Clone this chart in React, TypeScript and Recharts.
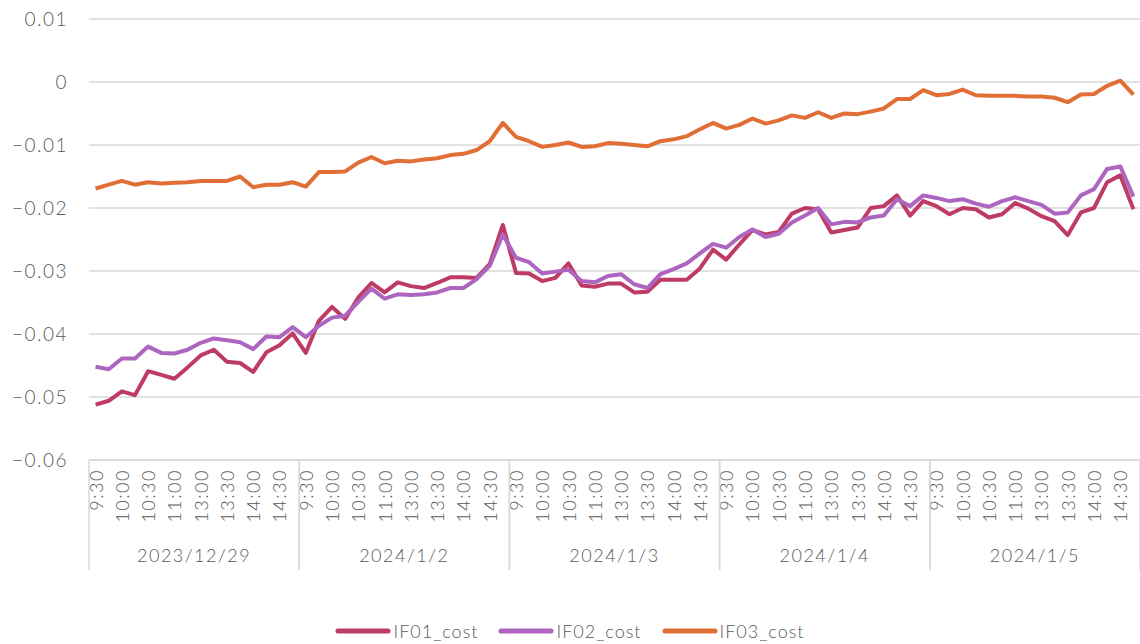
import React from 'react';
import { LineChart, Line, XAxis, YAxis, CartesianGrid, Legend } from 'recharts';

const days = ['2023/12/29', '2024/1/2', '2024/1/3', '2024/1/4', '2024/1/5'];
const times = [
  '9:30', '9:45', '10:00', '10:15', '10:30', '10:45', '11:00', '11:15',
  '13:00', '13:15', '13:30', '13:45', '14:00', '14:15', '14:30', '14:45',
];

const if01 = [
  -0.0512, -0.0506, -0.0491, -0.0497, -0.0459, -0.0465, -0.0471, -0.0453, -0.0434, -0.0425, -0.0444, -0.0446, -0.046, -0.0429, -0.0418, -0.0399,
  -0.043, -0.0379, -0.0357, -0.0376, -0.0342, -0.0319, -0.0334, -0.0318, -0.0324, -0.0327, -0.0319, -0.031, -0.031, -0.0311, -0.0289, -0.0227,
  -0.0303, -0.0304, -0.0316, -0.0311, -0.0288, -0.0323, -0.0325, -0.032, -0.032, -0.0334, -0.0333, -0.0314, -0.0314, -0.0314, -0.0296, -0.0266,
  -0.0282, -0.0258, -0.0235, -0.0242, -0.0238, -0.0209, -0.02, -0.0202, -0.0239, -0.0235, -0.0231, -0.02, -0.0197, -0.018, -0.0212, -0.0189,
  -0.0197, -0.021, -0.02, -0.0202, -0.0215, -0.021, -0.0192, -0.0201, -0.0213, -0.0221, -0.0243, -0.0207, -0.02, -0.0159, -0.0148, -0.0202,
];
const if02 = [
  -0.0452, -0.0456, -0.0439, -0.0439, -0.042, -0.043, -0.0431, -0.0425, -0.0414, -0.0407, -0.041, -0.0413, -0.0424, -0.0404, -0.0405, -0.0389,
  -0.0405, -0.0387, -0.0374, -0.0371, -0.0349, -0.0328, -0.0344, -0.0337, -0.0338, -0.0337, -0.0334, -0.0327, -0.0327, -0.0313, -0.0292, -0.0242,
  -0.0279, -0.0286, -0.0304, -0.0301, -0.0298, -0.0316, -0.0318, -0.0308, -0.0305, -0.0321, -0.0327, -0.0305, -0.0297, -0.0288, -0.0272, -0.0257,
  -0.0263, -0.0246, -0.0234, -0.0246, -0.0241, -0.0223, -0.0212, -0.02, -0.0226, -0.0222, -0.0223, -0.0215, -0.0212, -0.0186, -0.0197, -0.018,
  -0.0184, -0.0189, -0.0186, -0.0193, -0.0198, -0.0189, -0.0183, -0.0189, -0.0195, -0.0209, -0.0207, -0.018, -0.017, -0.0138, -0.0134, -0.0182,
];
const if03 = [
  -0.0169, -0.0163, -0.0157, -0.0163, -0.0159, -0.0161, -0.016, -0.0159, -0.0157, -0.0157, -0.0157, -0.015, -0.0167, -0.0163, -0.0163, -0.0159,
  -0.0166, -0.0143, -0.0143, -0.0142, -0.0128, -0.0119, -0.0129, -0.0125, -0.0126, -0.0123, -0.0121, -0.0116, -0.0114, -0.0108, -0.0094, -0.0065,
  -0.0087, -0.0094, -0.0103, -0.01, -0.0096, -0.0103, -0.0102, -0.0097, -0.0098, -0.01, -0.0102, -0.0094, -0.0091, -0.0086, -0.0075, -0.0065,
  -0.0074, -0.0068, -0.0058, -0.0066, -0.0061, -0.0053, -0.0057, -0.0048, -0.0057, -0.005, -0.0051, -0.0047, -0.0042, -0.0027, -0.0027, -0.0013,
  -0.0021, -0.0019, -0.0012, -0.0021, -0.0022, -0.0022, -0.0022, -0.0023, -0.0023, -0.0025, -0.0032, -0.002, -0.0019, -0.0006, 0.0002, -0.002,
];
const yTicks = [-0.06, -0.05, -0.04, -0.03, -0.02, -0.01, 0, 0.01];

const series = [
  { key: 'IF01_cost', color: '#BE3B65' },
  { key: 'IF02_cost', color: '#AD65C0' },
  { key: 'IF03_cost', color: '#E06E35' },
];

const W = 1140;
const H = 644;
const LEFT = 89;
const N = days.length * times.length;
const BAND = (W - LEFT) / N;
const FONT = "Lato, 'Open Sans', sans-serif";
const GRAY = '#595959';
const LINE = '#D9D9D9';

const data = days.flatMap((d, di) =>
  times.map((t, ti) => {
    const i = di * times.length + ti;
    return { key: `${d}|${t}`, IF01_cost: if01[i], IF02_cost: if02[i], IF03_cost: if03[i] };
  })
);

const fmtY = (v: number) => (v === 0 ? '0' : v < 0 ? `\u2212${Math.abs(v).toFixed(2)}` : v.toFixed(2));

// time labels every other slot, date label centred under each day, separators between days
const TimeDayTick = (props: any) => {
  const { x, y, payload } = props;
  const [day, time] = String(payload.value).split('|');
  const ti = times.indexOf(time);
  const left = x - BAND / 2;
  return (
    <g>
      {ti % 2 === 0 && (
        <text
          transform={`translate(${x},${y + 9}) rotate(-90)`}
          textAnchor="end"
          dominantBaseline="central"
          fill={GRAY}
          fontSize={18}
          letterSpacing={1.5}
          fontFamily={FONT}
          fontWeight={300}
        >
          {time}
        </text>
      )}
      {ti === 0 && <line x1={left} x2={left} y1={y} y2={y + 110} stroke={LINE} strokeWidth={1.5} />}
      {ti === times.length - 1 && (
        <line x1={x + BAND / 2} x2={x + BAND / 2} y1={y} y2={y + 110} stroke={LINE} strokeWidth={1.5} />
      )}
      {ti === times.length / 2 && (
        <text
          x={left}
          y={y + 102}
          textAnchor="middle"
          fill={GRAY}
          fontSize={18}
          letterSpacing={1.5}
          fontFamily={FONT}
          fontWeight={300}
        >
          {day}
        </text>
      )}
    </g>
  );
};

const LegendContent = () => (
  <div style={{ display: 'flex', justifyContent: 'center', gap: 20, fontFamily: FONT }}>
    {series.map((s) => (
      <div key={s.key} style={{ display: 'flex', alignItems: 'center' }}>
        <svg width={56} height={10}>
          <line x1={3} x2={53} y1={5} y2={5} stroke={s.color} strokeWidth={5} strokeLinecap="round" />
        </svg>
        <span style={{ color: GRAY, fontSize: 18, fontWeight: 300, letterSpacing: 1, marginLeft: 2 }}>{s.key}</span>
      </div>
    ))}
  </div>
);

export default function App() {
  return (
    <div style={{ width: W, height: H, background: '#fff' }}>
      <style>{'body{margin:0}'}</style>
      <LineChart width={W} height={H} data={data} margin={{ top: 19, right: 0, left: 0, bottom: 64 }}>
        <CartesianGrid vertical={false} stroke={LINE} strokeWidth={1.5} />
        <XAxis
          dataKey="key"
          interval={0}
          tickLine={false}
          tickSize={0}
          tickMargin={0}
          height={120}
          padding={{ left: BAND / 2, right: BAND / 2 }}
          axisLine={{ stroke: LINE, strokeWidth: 1.5 }}
          tick={<TimeDayTick />}
        />
        <YAxis
          domain={[-0.06, 0.01]}
          ticks={yTicks}
          tickFormatter={fmtY}
          width={LEFT}
          axisLine={false}
          tickLine={false}
          tickSize={0}
          tickMargin={21}
          tick={{ fill: GRAY, fontSize: 19, letterSpacing: 1.5, fontFamily: FONT, fontWeight: 300 }}
        />
        <Legend
          layout="horizontal"
          verticalAlign="middle"
          align="center"
          content={<LegendContent />}
          wrapperStyle={{ top: 620, left: 0, width: W }}
        />
        {series.map((s) => (
          <Line
            key={s.key}
            dataKey={s.key}
            stroke={s.color}
            strokeWidth={4}
            dot={false}
            type="linear"
            strokeLinejoin="round"
            isAnimationActive={false}
          />
        ))}
      </LineChart>
    </div>
  );
}
